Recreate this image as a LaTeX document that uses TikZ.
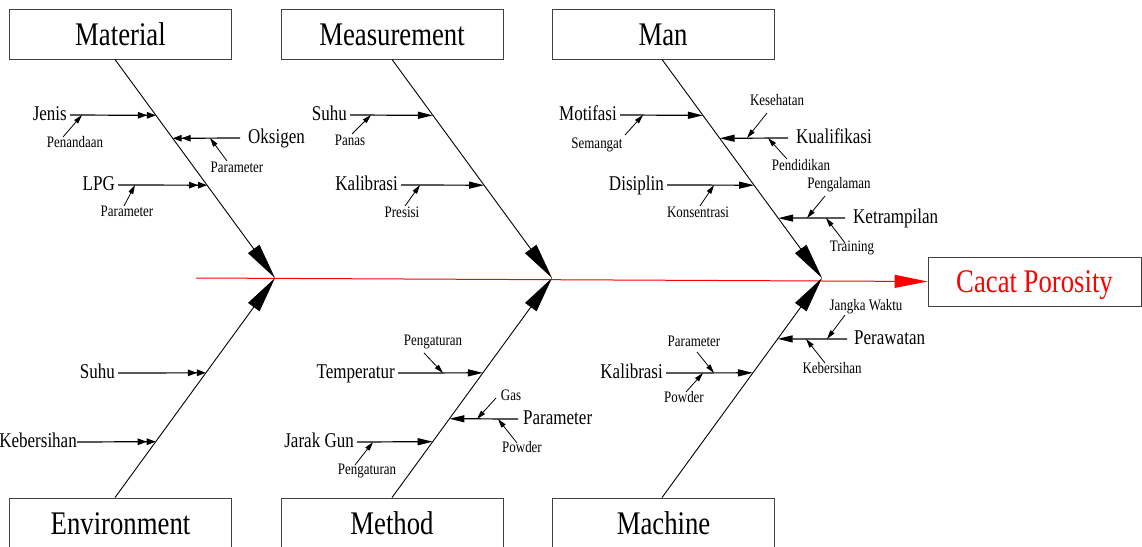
\documentclass[tikz,border=0pt]{standalone}
\usepackage{fontspec}
\setmainfont[FakeStretch=0.81]{Liberation Serif}
\usetikzlibrary{arrows.meta,calc}
\newcommand\subsub[5]{%
  \node[sslab] (#1) at (#2) {#3};
  \coordinate (#1-t) at (#4);
  \coordinate (#1-h) at (#5);
  \draw[ss] (#1-t) -- (#1-h);}
\begin{document}
\begin{tikzpicture}[x=1pt,y=-1pt,
  catbox/.style={draw=black!75, line width=0.9pt, minimum width=222pt, minimum height=50pt,
    inner sep=0pt, font=\fontsize{33}{33}\selectfont, text height=22pt, text depth=0pt},
  lab/.style={font=\fontsize{21}{21}\selectfont, inner ysep=0pt, inner xsep=3pt, text height=14.7pt, text depth=4.2pt},
  labl/.style={lab, anchor=east},
  labr/.style={lab, anchor=west, inner xsep=8pt},
  sslab/.style={font=\fontsize{16}{16}\selectfont, inner sep=0pt, text height=11.2pt, text depth=3.2pt},
  bone/.style={line width=0.9pt, -{Triangle[length=36pt,width=14pt]}},
  spine/.style={red, line width=1pt, -{Triangle[length=33pt,width=13pt]}},
  dbl/.style={line width=1.2pt, -{Triangle[length=9pt,width=6.5pt]Triangle[length=9pt,width=6.5pt]}},
  sgl/.style={line width=1.2pt, -{Triangle[length=15pt,width=7pt]}},
  ss/.style={line width=0.8pt, -{Triangle[length=9pt,width=5pt]}}
]
\useasboundingbox (0,0) rectangle (1142,546);
\clip (0,0) rectangle (1142,546);

% category boxes
\node[catbox] (matbox) at (120.5,34) {Material};
\node[catbox] (meabox) at (392,34) {Measurement};
\node[catbox] (manbox) at (663,34) {Man};
\node[catbox] (envbox) at (120.5,523) {Environment};
\node[catbox] (metbox) at (392,523) {Method};
\node[catbox] (macbox) at (663.5,523) {Machine};
\node[catbox, minimum width=213pt, minimum height=49pt, text=red] (cacat) at (1034.5,281.5) {Cacat Porosity};

% spine and bones
\coordinate (sp0) at (196,278);
\coordinate (e1) at (275,278);
\coordinate (e2) at (552,278);
\coordinate (e3) at (822,278);
\coordinate (t1) at (matbox.south -| 115,0);
\coordinate (t2) at (meabox.south -| 392,0);
\coordinate (t3) at (manbox.south -| 662,0);
\coordinate (b1) at (envbox.north -| 115,0);
\coordinate (b2) at (metbox.north -| 392,0);
\coordinate (b3) at (macbox.north -| 662,0);
\draw[spine] (sp0) -- (cacat.west);
\draw[bone] (t1) -- (e1);
\draw[bone] (t2) -- (e2);
\draw[bone] (t3) -- (e3);
\draw[bone] (b1) -- (e1);
\draw[bone] (b2) -- (e2);
\draw[bone] (b3) -- (e3);

% ---- Material
\node[labl] (jenis) at (70,115) {Jenis};
\draw[dbl] (jenis.east) -- ($(t1)!{56/219}!(e1)$);
\node[labr] (oks) at (240,138) {Oksigen};
\draw[dbl] (oks.west) -- ($(t1)!{79/219}!(e1)$);
\node[labl] (lpg) at (118,185) {LPG};
\draw[dbl] (lpg.east) -- ($(t1)!{126/219}!(e1)$);
\subsub{pen}{75,143}{Penandaan}{63,137}{82,115}
\subsub{parA}{237,168}{Parameter}{227,161}{210,138}
\subsub{parB}{127,212}{Parameter}{124,206}{135,185}

% ---- Measurement
\node[labl] (suhuA) at (350,115) {Suhu};
\draw[sgl] (suhuA.east) -- ($(t2)!{56/219}!(e2)$);
\node[labl] (kalA) at (401,185) {Kalibrasi};
\draw[sgl] (kalA.east) -- ($(t2)!{126/219}!(e2)$);
\subsub{panas}{350,141}{Panas}{352,134}{371,115}
\subsub{pres}{402,213}{Presisi}{405,206}{420,185}

% ---- Man
\node[labl] (motif) at (620,115) {Motifasi};
\draw[sgl] (motif.east) -- ($(t3)!{56/219}!(e3)$);
\node[labr] (kual) at (788,138) {Kualifikasi};
\draw[sgl] (kual.west) -- ($(t3)!{79/219}!(e3)$);
\node[labl] (disip) at (667,185) {Disiplin};
\draw[sgl] (disip.east) -- ($(t3)!{126/219}!(e3)$);
\node[labr] (ketr) at (845,218) {Ketrampilan};
\draw[sgl] (ketr.west) -- ($(t3)!{159/219}!(e3)$);
\subsub{seman}{597,144}{Semangat}{625,135}{643,115}
\subsub{keseh}{777,101}{Kesehatan}{767,113}{747,138}
\subsub{pendi}{801,166}{Pendidikan}{787,159}{768,138}
\subsub{konse}{698,213}{Konsentrasi}{700,206}{714,185}
\subsub{penga}{839,184}{Pengalaman}{825,196}{807,218}
\subsub{train}{852,247}{Training}{845,243}{826,218}

% ---- Environment
\node[labl] (suhuB) at (118,373) {Suhu};
\draw[dbl] (suhuB.east) -- ($(b1)!{125/220}!(e1)$);
\node[labl, inner xsep=0pt] (kebA) at (77,442) {Kebersihan};
\draw[dbl] (kebA.east) -- ($(b1)!{56/220}!(e1)$);

% ---- Method
\node[labl] (temp) at (398,373) {Temperatur};
\draw[sgl] (temp.east) -- ($(b2)!{125/220}!(e2)$);
\node[labr, inner xsep=5pt] (parM) at (518,419) {Parameter};
\draw[sgl] (parM.west) -- ($(b2)!{79/220}!(e2)$);
\node[labl] (jarak) at (357,442) {Jarak Gun};
\draw[sgl] (jarak.east) -- ($(b2)!{56/220}!(e2)$);
\subsub{pengA}{433,341}{Pengaturan}{424,353}{443,373}
\subsub{gas}{511,396}{Gas}{496,398}{477,419}
\subsub{powA}{522,448}{Powder}{517,443}{498,419}
\subsub{pengB}{367,470}{Pengaturan}{355,465}{373,442}

% ---- Machine
\node[labr, inner xsep=7pt] (peraw) at (847,339) {Perawatan};
\draw[sgl] (peraw.west) -- ($(b3)!{159/220}!(e3)$);
\node[labl] (kalB) at (666,373) {Kalibrasi};
\draw[sgl] (kalB.east) -- ($(b3)!{125/220}!(e3)$);
\subsub{jangka}{866,306}{Jangka Waktu}{845,315}{827,339}
\subsub{kebB}{832,369}{Kebersihan}{825,363}{806,339}
\subsub{parC}{694,342}{Parameter}{697,352}{714,373}
\subsub{powB}{684,398}{Powder}{686,392}{703,373}
\end{tikzpicture}
\end{document}
